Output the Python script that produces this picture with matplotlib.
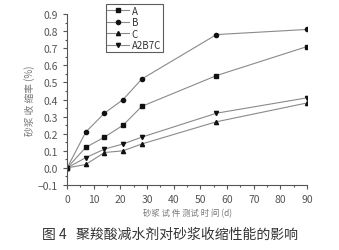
import matplotlib.pyplot as plt

plt.rcParams['font.family'] = ['Noto Sans CJK SC', 'DejaVu Sans']

days = [0, 7, 14, 21, 28, 56, 90]
shrink_a = [0, 0.12, 0.18, 0.25, 0.36, 0.54, 0.71]
shrink_b = [0, 0.21, 0.32, 0.40, 0.52, 0.78, 0.81]
shrink_c = [0, 0.02, 0.09, 0.10, 0.14, 0.27, 0.38]
shrink_abc = [0, 0.06, 0.11, 0.14, 0.18, 0.32, 0.41]
series_names = ['A', 'B', 'C', 'A2B7C']

fig = plt.figure(figsize=(3.39, 2.51), dpi=100)
ax = fig.add_axes([0.198, 0.259, 0.708, 0.681])

line_kw = dict(color='#8a8a8a', lw=0.8, mfc='#111111', mec='#111111', ms=3)
ax.plot(days, shrink_a, marker='s', label=series_names[0], **line_kw)
ax.plot(days, shrink_b, marker='o', label=series_names[1], **line_kw)
ax.plot(days, shrink_c, marker='^', label=series_names[2], **line_kw)
ax.plot(days, shrink_abc, marker='v', label=series_names[3], **line_kw)

ax.set_xlim(0, 90)
ax.set_ylim(-0.1, 0.9)
ax.set_xticks(range(0, 91, 10))
ax.set_yticks([round(-0.1 + 0.1 * i, 1) for i in range(11)])
ax.set_xticks(range(5, 90, 10), minor=True)
ax.set_yticks([-0.05 + 0.1 * i for i in range(10)], minor=True)
ax.tick_params(which='both', direction='out', colors='#555555', labelsize=7.5, width=0.8)
ax.tick_params(which='major', length=3)
ax.tick_params(which='minor', length=1.5)
for s in ['top', 'right']:
    ax.spines[s].set_visible(False)
for s in ['left', 'bottom']:
    ax.spines[s].set_color('#555555')
    ax.spines[s].set_linewidth(0.8)

ax.set_xlabel('砂浆 试 件 测试 时 间 (d)', fontsize=6, color='#777777', labelpad=3)
ax.set_ylabel('砂浆 收 缩率 (%)', fontsize=7, color='#777777', labelpad=2)

leg = ax.legend(loc='upper left', bbox_to_anchor=(0.16, 1.06), fontsize=7,
                frameon=True, fancybox=False, edgecolor='#333333',
                handlelength=2.2, handletextpad=0.3, borderpad=0.2,
                labelspacing=0.15, borderaxespad=0)
leg.get_frame().set_linewidth(0.8)
for t in leg.get_texts():
    t.set_color('#333333')

fig.text(0.5, 0.05, '图 4   聚羧酸减水剂对砂浆收缩性能的影响', ha='center',
         fontsize=10, color='#333333')

fig.savefig('out.png', dpi=100, facecolor='white')
